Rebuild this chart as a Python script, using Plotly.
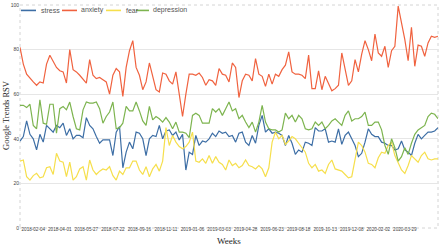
import pandas as pd
import plotly.graph_objects as go

# ---------------- data ----------------
start_date = "2018-01-07"
n_weeks = 127
weeks = pd.date_range(start_date, periods=n_weeks, freq="7D")

stress = [39, 41, 48, 42, 40, 35, 42, 38.5, 46, 44.5, 43, 46, 45, 47, 41.5, 44.5, 40, 41.5, 41.5, 40.5,
          49.5, 46, 44.5, 41, 38, 39.5, 39.5, 39.5, 32.5, 43, 45.5, 27, 34, 38.5, 35.5, 43, 42.5, 40, 32.5, 40,
          41.5, 41, 46, 40, 43.5, 44, 41.5, 43, 39.5, 42, 26, 34, 33, 41.5, 37, 39, 38.5, 40, 42.5, 41,
          43.5, 42.5, 43, 41, 41.5, 38.5, 42.5, 43, 38.5, 37, 41.5, 38, 46, 50.5, 43, 44.5, 42.5, 43, 42.5, 41.5, 37,
          41.5, 38, 33, 35, 34, 38.5, 38, 37, 45, 43.5, 43.5, 44.5, 38.5, 39, 38.5, 44.5, 37.5, 41.5, 43, 40,
          37, 32, 33.5, 38.5, 44.5, 42, 41, 41, 38.5, 38, 37, 37, 35, 35.5, 39, 35, 34, 32.5, 38, 42,
          40, 41.5, 43, 43, 43.5, 45]

anxiety = [81, 73.5, 69, 67, 65.5, 64, 65.5, 65, 73.5, 77.5, 75, 72, 70.5, 70, 65, 80, 71, 70, 68.5, 66.5,
           65, 75.5, 68.5, 67, 67.5, 66.5, 65.5, 60, 68.5, 71.5, 70, 59, 72, 79.5, 84, 72, 68.5, 62, 65.5, 74,
           67.5, 62, 61, 69.5, 69, 66, 64.5, 70, 60, 50, 60, 69, 69, 68.5, 69.5, 67.5, 64, 66.5, 66, 64,
           71.5, 69, 68.5, 65.5, 74, 72, 58.5, 66, 69, 68.5, 66, 76, 69, 68, 63.5, 69, 64.5, 69, 68, 71, 73,
           79, 70, 69, 69, 68.5, 67, 77.5, 62.5, 62.5, 70.5, 62, 68, 65, 61.5, 62.5, 64, 78.5, 71.5, 64, 66,
           75.5, 70, 78, 84, 80, 75, 87, 78.5, 77, 81.5, 72, 79.5, 81.5, 99.5, 92, 84.5, 75, 90, 72.5, 82,
           81.5, 77, 83, 86, 85.5, 86]

fear = [30, 30.5, 23, 21.5, 23.5, 24.5, 22.5, 23, 27, 27.5, 24, 33.5, 30, 29.5, 23, 29.5, 21.5, 23, 26.5, 27.5,
        21.5, 30.5, 26, 24, 25.5, 26.5, 26, 27.5, 23.5, 21.5, 25.5, 24, 27, 27, 30, 30, 26, 24, 27.5, 23,
        26.5, 28.5, 25.5, 30, 45, 37, 41.5, 38.5, 36.5, 35.5, 36.5, 38.5, 43, 30, 29.5, 31, 29, 32.5, 29, 32,
        29.5, 28.5, 26, 30.5, 28, 29, 27, 28, 30.5, 28, 27.5, 26.5, 28, 26.5, 23, 27, 38.5, 43, 40, 41.5, 37.5,
        39, 41, 40, 38, 36, 34, 29, 27, 28.5, 25.5, 26, 24.5, 28.5, 30.5, 26.5, 26, 25.5, 24, 22.5, 23,
        30.5, 38.5, 37, 34, 29, 28.5, 27, 31.5, 34, 33.5, 37, 38.5, 32.5, 29.5, 26, 24.5, 28, 32.5, 31, 29.5,
        32.5, 34, 31, 30.5, 31, 31]

depression = [55, 55, 54, 55.5, 46, 44.5, 57.5, 47, 46.5, 55.5, 55.5, 42.5, 53.5, 54.5, 53, 56.5, 50, 44.5, 44, 53,
              56.5, 56, 56, 56.5, 53.5, 47, 50, 52, 56.5, 44.5, 45, 47, 54.5, 52.5, 52.5, 56.5, 52.5, 48, 46, 54.5,
              48.5, 50, 49, 47.5, 49.5, 47.5, 44.5, 47.5, 43, 43, 42.5, 40.5, 50.5, 51.5, 50.5, 47, 47, 47, 53.5, 52,
              53.5, 50.5, 53.5, 56.5, 52.5, 53.5, 49, 50.5, 47.5, 45, 47.5, 43, 47.5, 55, 47.5, 44.5, 44, 44, 43, 44, 51.5,
              49, 50.5, 47.5, 50.5, 49, 44.5, 44, 44.5, 47.5, 46, 47.5, 44.5, 46, 48, 49, 47.5, 46, 50.5, 52.5, 48,
              49, 49, 50, 52, 46, 46, 47.5, 47.5, 44, 37, 33, 40, 36, 30, 32, 36, 33, 38, 42, 44,
              45, 46, 50, 51.5, 51, 49]

series_names = ["stress", "anxiety", "fear", "depression"]
series_values = [stress, anxiety, fear, depression]
series_colors = ["#3d6ea5", "#f0623f", "#f6df4c", "#7db44f"]

tick_labels = ["2018-02-04", "2018-04-01", "2018-05-27", "2018-07-22", "2018-09-16",
               "2018-11-11", "2019-01-06", "2019-03-03", "2019-04-28", "2019-06-23",
               "2019-08-18", "2019-10-13", "2019-12-08", "2020-02-02", "2020-03-29"]
y_ticks = [0, 20, 40, 60, 80, 100]

# ---------------- figure ----------------
W, H = 440, 246
ML, MR, MT, MB = 20, 2, 2, 18
PW, PH = W - ML - MR, H - MT - MB


def px_x(px):
    return (px - ML) / PW


def px_y(py):
    return (H - MB - py) / PH


fig = go.Figure()
for name, vals, col in zip(series_names, series_values, series_colors):
    fig.add_trace(go.Scatter(x=weeks, y=vals, mode="lines", name=name,
                             line=dict(color=col, width=1.2), hoverinfo="skip"))

shapes = [dict(type="rect", xref="paper", yref="paper", x0=0, x1=1, y0=0, y1=1,
               line=dict(color="#d4d4d4", width=1, dash="dot"), layer="below")]
annotations = []

# manual legend
leg_y = px_y(7.5)
leg_items = [(21, 36, 39), (62, 77, 79), (106, 121, 124), (136, 149, 151)]
for (lx0, lx1, tx), name, col in zip(leg_items, series_names, series_colors):
    shapes.append(dict(type="line", xref="paper", yref="paper", x0=px_x(lx0), x1=px_x(lx1),
                       y0=leg_y, y1=leg_y, line=dict(color=col, width=1.6)))
    annotations.append(dict(xref="paper", yref="paper", x=px_x(tx), y=leg_y, text=name,
                            showarrow=False, xanchor="left", yanchor="middle",
                            font=dict(size=7, color="#555555", family="Arial")))

annotations.append(dict(xref="paper", yref="paper", x=0.5, y=px_y(241), text="Weeks",
                        showarrow=False, xanchor="center", yanchor="middle",
                        font=dict(size=9, color="#222222", family="Liberation Serif")))
annotations.append(dict(xref="paper", yref="paper", x=px_x(5.5), y=px_y(114), text="Google Trends RSV",
                        showarrow=False, xanchor="center", yanchor="middle", textangle=-90,
                        font=dict(size=8.5, color="#222222", family="Liberation Serif")))

tick_dates = [pd.Timestamp(t) for t in tick_labels]

fig.update_layout(
    width=W, height=H,
    margin=dict(l=ML, r=MR, t=MT, b=MB),
    plot_bgcolor="white", paper_bgcolor="white",
    showlegend=False,
    shapes=shapes, annotations=annotations,
    xaxis=dict(type="date", range=[weeks[0], weeks[-1]], tickvals=tick_dates, ticktext=tick_labels,
               showgrid=False, zeroline=False, showline=False, ticks="",
               ticklabelstandoff=-3,
               tickfont=dict(size=4.6, color="#444444", family="Arial"), tickangle=0),
    yaxis=dict(range=[0, 100], tickvals=y_ticks, ticktext=[str(v) for v in y_ticks],
               showgrid=True, gridcolor="#e6e6e6", gridwidth=1,
               zeroline=False, showline=False, ticks="", showticklabels=True,
               ticklabeloverflow="allow",
               tickfont=dict(size=5, color="#444444", family="Arial")),
)

fig.write_html("out.html", include_plotlyjs=True, config={"displayModeBar": False, "staticPlot": True},
               post_script="document.body.style.margin='0';document.body.style.overflow='hidden';")
